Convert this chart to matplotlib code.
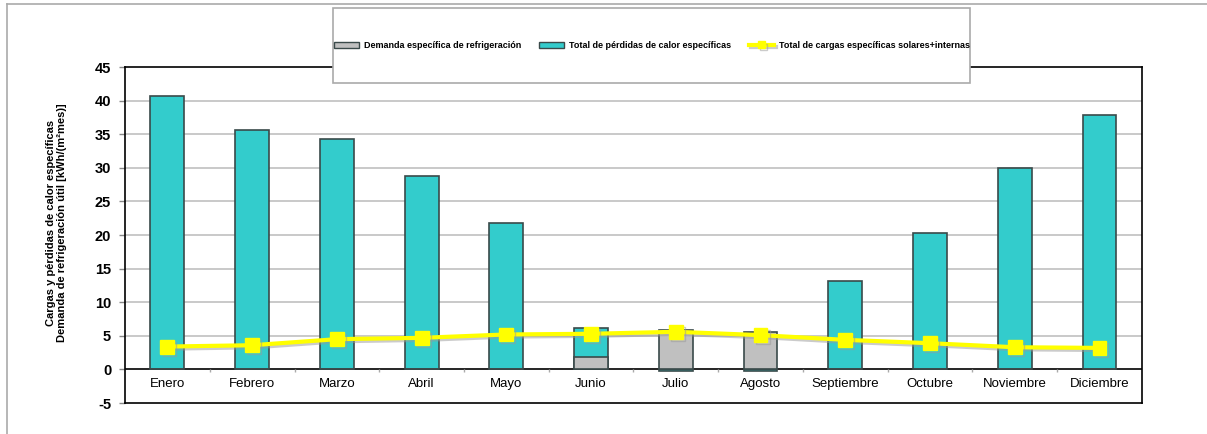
import matplotlib.pyplot as plt
import matplotlib.patheffects as pe
from matplotlib.patches import Rectangle
import numpy as np

plt.rcParams['font.family'] = ['Liberation Sans', 'DejaVu Sans']

# data
meses = ['Enero', 'Febrero', 'Marzo', 'Abril', 'Mayo', 'Junio', 'Julio',
         'Agosto', 'Septiembre', 'Octubre', 'Noviembre', 'Diciembre']
perdidas = [40.7, 35.6, 34.3, 28.8, 21.8, 6.1, -0.3, -0.3, 13.2, 20.3, 29.9, 37.8]
refrigeracion = [0, 0, 0, 0, 0, 1.8, 5.9, 5.6, 0.1, 0, 0, 0]
cargas = [3.4, 3.6, 4.5, 4.7, 5.2, 5.3, 5.6, 5.1, 4.4, 3.9, 3.3, 3.2]
yticks = [-5, 0, 5, 10, 15, 20, 25, 30, 35, 40, 45]

fig = plt.figure(figsize=(12.07, 4.34), dpi=100)
ax = fig.add_axes([0.1036, 0.0714, 0.8424, 0.7742])

x = np.arange(len(meses))
edge = '#3a4a4a'
b1 = ax.bar(x, perdidas, 0.4, color='#33CCCC', edgecolor=edge, linewidth=1.2, zorder=2)
b2 = ax.bar(x, refrigeracion, 0.4, color='#C0C0C0', edgecolor=edge, linewidth=1.2, zorder=3)
l1, = ax.plot(x, cargas, color='#FFFF00', lw=3, marker='s', markersize=10,
              zorder=4,
              path_effects=[pe.SimpleLineShadow(offset=(1.5, -1.5), shadow_color='#999999', alpha=0.5),
                            pe.Normal()])

ax.set_xlim(-0.5, len(meses) - 0.5)
ax.set_ylim(-5, 45)
ax.set_yticks(yticks)
ax.set_yticklabels([str(v) for v in yticks], fontsize=10.5, fontweight='bold')
ax.tick_params(axis='y', length=4, width=1, color='#888888', pad=6)
ax.set_xticks([])
for v in yticks[2:-1]:
    ax.axhline(v, color='#C0C0C0', lw=1.2, zorder=0)
ax.axhline(0, color='black', lw=1.2, zorder=1)
ax.vlines(x[:-1] + 0.5, -0.45, 0, color='#aaaaaa', lw=1, zorder=1)
for i, m in enumerate(meses):
    ax.text(i, -2.2, m, ha='center', va='center', fontsize=9.5)
for s in ax.spines.values():
    s.set_color('black')
    s.set_linewidth(1.2)

fig.text(0.047, 0.487, 'Cargas y pérdidas de calor específicas\nDemanda de refrigeración útil [kWh/(m²mes)]',
         rotation=90, ha='center', va='center', fontsize=8.0, fontweight='bold', linespacing=1.15)

# outer frame lines (top and left)
fig.add_artist(plt.Line2D([0.0058, 1.0], [0.9908, 0.9908], color='#aaaaaa', lw=1.2, transform=fig.transFigure))
fig.add_artist(plt.Line2D([0.0058, 0.0058], [0.0, 0.9908], color='#aaaaaa', lw=1.2, transform=fig.transFigure))

# legend box
fig.add_artist(Rectangle((0.276, 0.809), 0.528, 0.173, transform=fig.transFigure,
                         facecolor='white', edgecolor='#aaaaaa', lw=1.2, zorder=5))
leg = fig.legend([b2, b1, l1],
                 ['Demanda específica de refrigeración', 'Total de pérdidas de calor específicas',
                  'Total de cargas específicas solares+internas'],
                 loc='center', bbox_to_anchor=(0.54, 0.895), ncol=3, frameon=False,
                 prop={'size': 6.5, 'weight': 'bold'}, handlelength=2.8, handleheight=0.7,
                 handletextpad=0.5, columnspacing=2.0)
leg.set_zorder(6)
for h in leg.legend_handles[:2]:
    h.set_linewidth(1)
leg.legend_handles[2].set_markersize(5)

fig.savefig('out.png', dpi=100)
